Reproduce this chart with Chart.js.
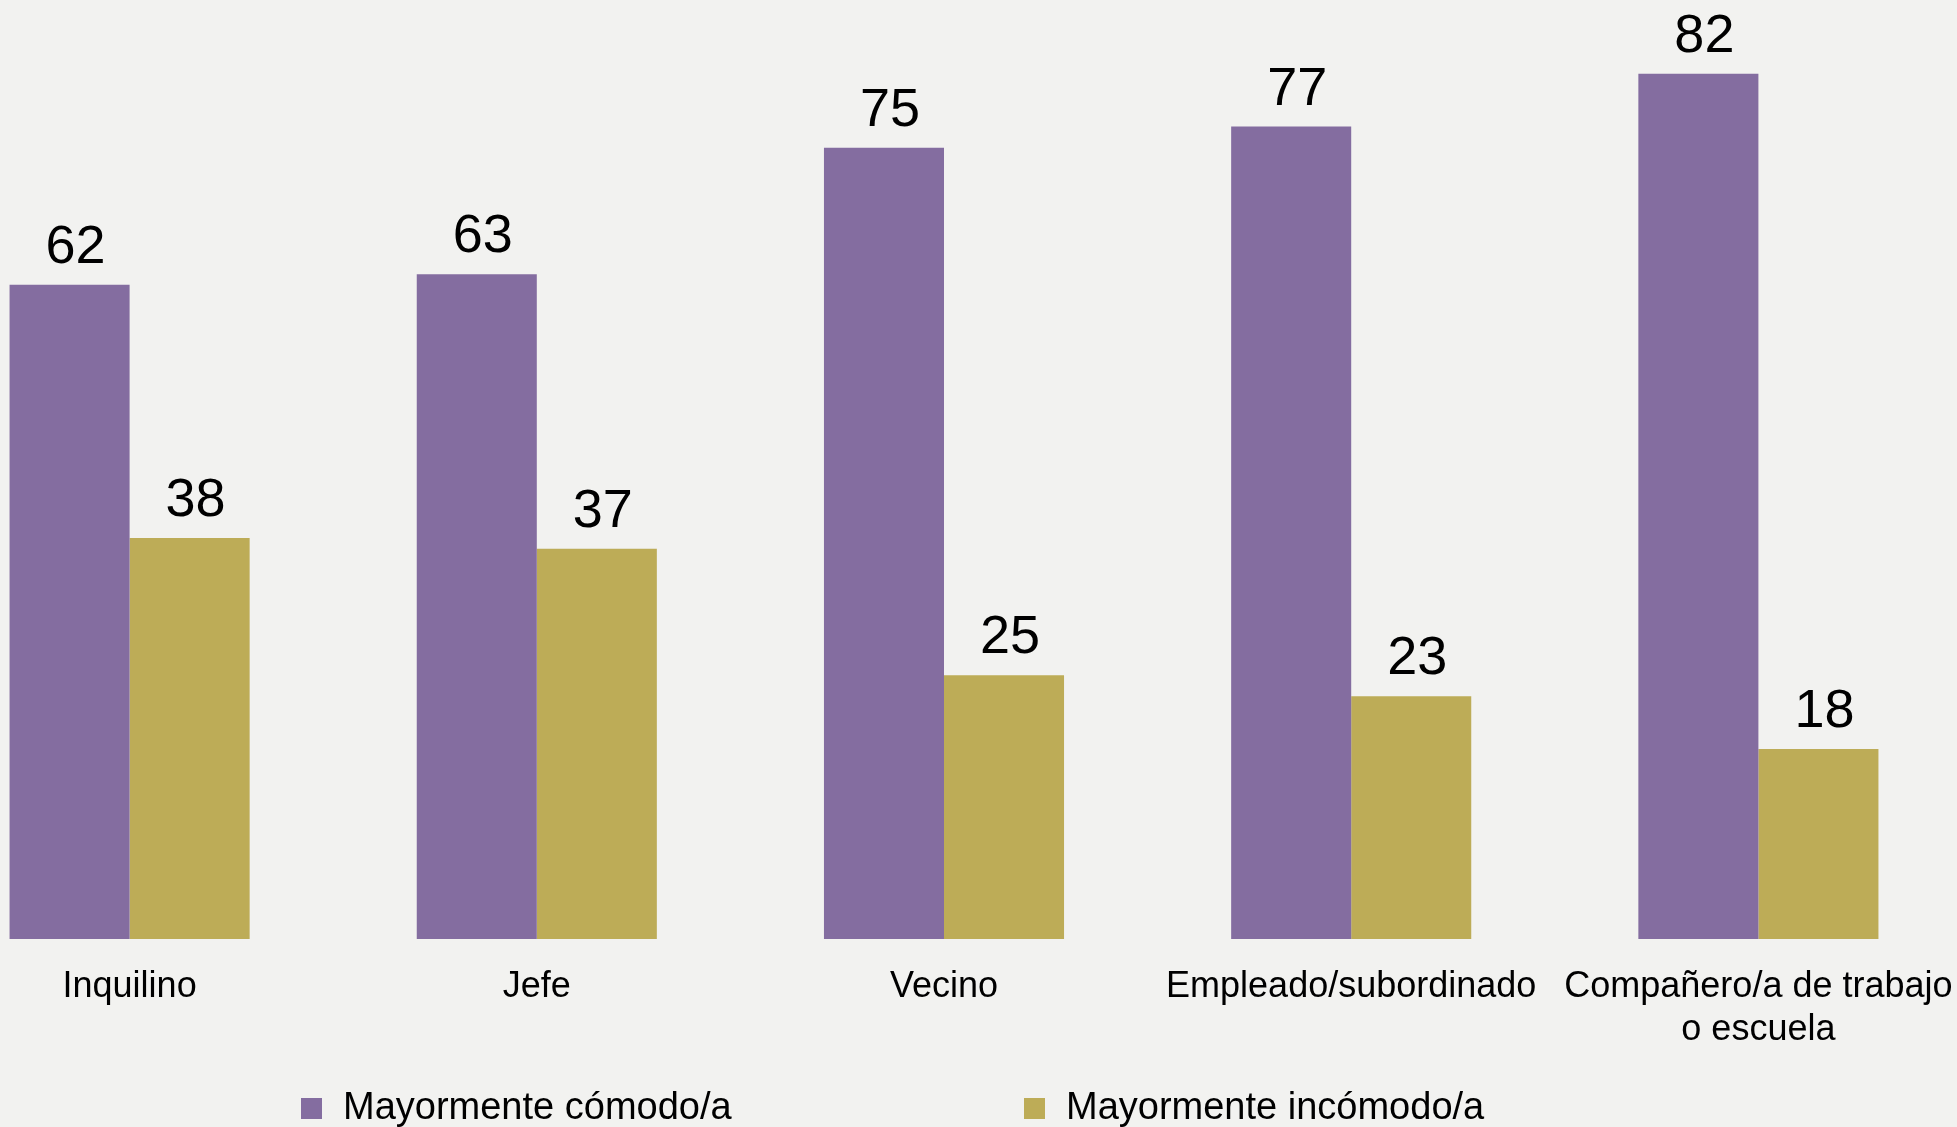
<!DOCTYPE html>
<html>
<head>
<meta charset="utf-8">
<script src="https://cdn.jsdelivr.net/npm/chart.js@4.4.1/dist/chart.umd.min.js"></script>
<style>
  html, body { margin: 0; padding: 0; background: #f2f2f0; overflow: hidden; width: 1957px; height: 1127px; }
  #wrap { position: absolute; left: -74px; top: 0; width: 2036px; height: 1127px; }
</style>
</head>
<body>
<div id="wrap"><canvas id="c" width="2036" height="1127"></canvas></div>
<script>
const categories = ["Inquilino", "Jefe", "Vecino", "Empleado/subordinado", ["Compañero/a de trabajo", "o escuela"]];
const comodo = [62, 63, 75, 77, 82];
const incomodo = [38, 37, 25, 23, 18];
const seriesLabels = ["Mayormente cómodo/a", "Mayormente incómodo/a"];
const seriesColors = ["#846da0", "#bdac57"];

const FONT = "'Liberation Sans', Arial, sans-serif";
const SHIFT = 74; // canvas is shifted left by this many px

const valueLabels = {
  id: 'valueLabels',
  afterDatasetsDraw(chart) {
    const ctx = chart.ctx;
    ctx.save();
    ctx.font = "54px " + FONT;
    ctx.fillStyle = "#000";
    ctx.textAlign = "center";
    ctx.textBaseline = "alphabetic";
    chart.data.datasets.forEach((ds, i) => {
      chart.getDatasetMeta(i).data.forEach((bar, j) => {
        ctx.fillText(String(ds.data[j]), bar.x + 6, bar.y - 22);
      });
    });
    ctx.restore();
  }
};

const customLegend = {
  id: 'customLegend',
  afterDraw(chart) {
    const ctx = chart.ctx;
    const items = [
      { box: 301, text: 343 },
      { box: 1024, text: 1066 }
    ];
    ctx.save();
    ctx.font = "38px " + FONT;
    ctx.textAlign = "left";
    ctx.textBaseline = "alphabetic";
    chart.data.datasets.forEach((ds, i) => {
      const it = items[i];
      ctx.fillStyle = ds.backgroundColor;
      ctx.fillRect(it.box + SHIFT, 1098, 21, 21);
      ctx.fillStyle = "#000";
      ctx.fillText(ds.label, it.text + SHIFT, 1119);
    });
    ctx.restore();
  }
};

new Chart(document.getElementById('c'), {
  type: 'bar',
  data: {
    labels: categories,
    datasets: [
      { label: seriesLabels[0], data: comodo, backgroundColor: seriesColors[0], borderWidth: 0 },
      { label: seriesLabels[1], data: incomodo, backgroundColor: seriesColors[1], borderWidth: 0 }
    ]
  },
  options: {
    responsive: false,
    animation: false,
    devicePixelRatio: 1,
    layout: { padding: 0 },
    categoryPercentage: 0.5896,
    barPercentage: 1.0,
    plugins: {
      legend: { display: false },
      tooltip: { enabled: false }
    },
    scales: {
      x: {
        offset: true,
        grid: { display: false, drawTicks: true, tickLength: 26 },
        border: { display: false },
        ticks: {
          color: "#000",
          font: { family: FONT, size: 36, lineHeight: 1.2 },
          padding: 0,
          maxRotation: 0,
          minRotation: 0,
          autoSkip: false
        },
        afterFit(scale) { scale.height = 188; }
      },
      y: {
        display: false,
        min: 0,
        max: 89
      }
    }
  },
  plugins: [valueLabels, customLegend]
});
</script>
</body>
</html>
